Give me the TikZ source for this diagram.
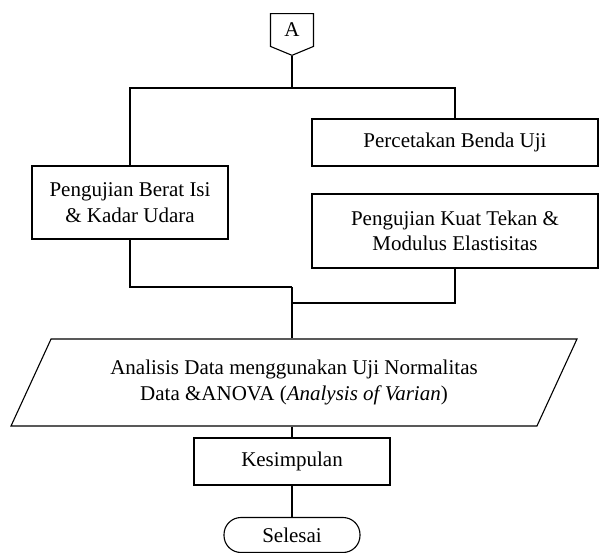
\documentclass[tikz,border=0pt]{standalone}
\usepackage{fontspec}
\setmainfont{Liberation Serif}
\usepackage{tikz}
\usetikzlibrary{shapes.geometric,shapes.symbols,calc}
\tikzset{
  % process box
  pbox/.style={rectangle, draw, line width=1.1pt, align=center, inner sep=2pt,
               minimum width=#1},
  pbox/.default={196pt},
  % data parallelogram
  iobox/.style={trapezium, draw, line width=1.1pt, align=center,
                trapezium left angle=52, trapezium right angle=128,
                trapezium stretches body, minimum width=566pt, minimum height=87pt},
  % terminator
  termbox/.style={rectangle, rounded corners=17pt, draw, line width=1.1pt,
                  minimum width=136pt, minimum height=35pt},
  % off-page connector
  offpage/.style={signal, signal to=south, signal pointer angle=135, draw,
                  line width=1.1pt, minimum width=43pt, minimum height=36pt, inner sep=0pt},
  % plain connector
  link/.style={line width=1.1pt},
}
\begin{document}
\begin{tikzpicture}[x=1pt, y=-1pt, font=\fontsize{21}{25.5}\selectfont]
  \useasboundingbox (0,0) rectangle (600,553);
  % connector A
  \node[offpage] (conA) at (292,30) {A};
  \coordinate (split) at (292,88);
  % branches
  \node[pbox, minimum height=73pt] (berat) at (130,202.5) {Pengujian Berat Isi\\\& Kadar Udara};
  \node[pbox=286pt, minimum height=47pt] (cetak) at (455,142.5) {Percetakan Benda Uji};
  \node[pbox=286pt, minimum height=74pt] (tekan) at (455,231) {Pengujian Kuat Tekan \&\\Modulus Elastisitas};
  \coordinate (joinL) at (292,287);
  \coordinate (joinR) at (292,303);
  % analysis, conclusion, end
  \node[iobox] (analisis) at (294,382.5) {Analisis Data menggunakan Uji Normalitas\\Data \&ANOVA (\textit{Analysis of Varian})};
  \node[pbox, minimum height=47pt] (simpul) at (292,461.5) {Kesimpulan};
  \node[termbox] (selesai) at (292,535) {Selesai};
  % links
  \draw[link] (conA.south) -- (split);
  \draw[link] (split) -| (berat.north);
  \draw[link] (split) -| (cetak.north);
  \draw[link] (berat.south) |- (joinL);
  \draw[link] (tekan.south) |- (joinR);
  \draw[link] (joinL) -- (analisis.north -| joinL);
  \draw[link] (analisis.south -| simpul.north) -- (simpul.north);
  \draw[link] (simpul) -- (selesai);
\end{tikzpicture}
\end{document}
